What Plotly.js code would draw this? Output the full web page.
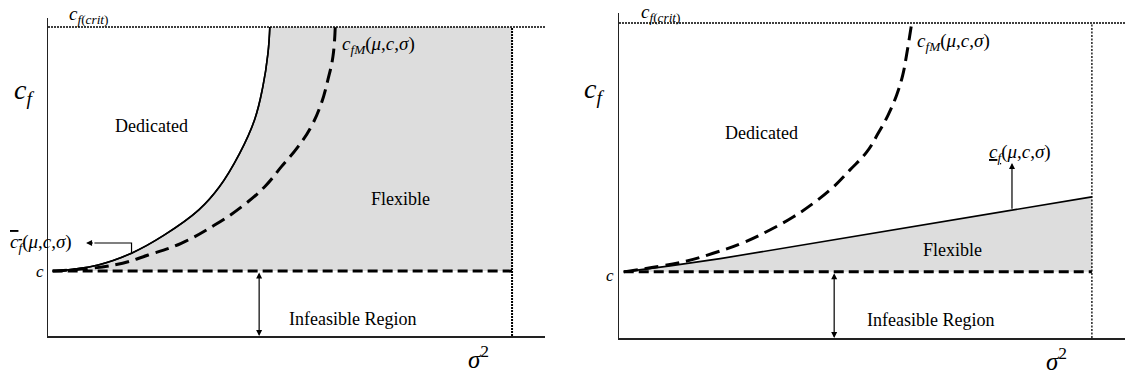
<!DOCTYPE html>
<html>
<head>
<meta charset="utf-8">
<script src="https://cdn.plot.ly/plotly-3.0.1.min.js"></script>
<style>html,body{margin:0;padding:0;background:#fff;}#chart{width:1125px;height:377px;}</style>
</head>
<body>
<div id="chart"></div>
<script>
// ---- data (x = sigma^2 units, y = c_f units; c = 2.1, c_f(crit) = 10, right bound = 10) ----
const cLevel = 2.1;
const cfCrit = 10;
const sigmaMax = 10;

// Left panel
const leftUpperX = [0.1, 1.08, 1.80, 2.51, 3.25, 3.69, 4.13, 4.45, 4.63, 4.74, 4.78];
const leftUpperY = [2.1, 2.30, 2.68, 3.27, 4.08, 4.82, 5.91, 6.99, 8.07, 9.15, 10.0];
const leftMX = [0.1, 1.44, 2.16, 2.87, 3.59, 4.17, 4.67, 5.03, 5.39, 5.67, 5.89, 6.03, 6.14, 6.19];
const leftMY = [2.1, 2.30, 2.62, 3.00, 3.59, 4.18, 4.83, 5.48, 6.13, 6.77, 7.53, 8.28, 9.04, 10.0];

// Right panel
const rightMX = [0.1, 1.36, 1.99, 2.63, 3.19, 3.69, 4.11, 4.50, 4.88, 5.24, 5.48, 5.69, 5.87, 6.00, 6.08, 6.19];
const rightMY = [2.1, 2.42, 2.69, 3.03, 3.43, 3.85, 4.28, 4.75, 5.33, 5.91, 6.50, 7.08, 7.71, 8.35, 8.98, 10.0];
const rightLowerX = [0.1, 1.08, 2.14, 4.25, 6.36, 8.31, 10.0];
const rightLowerY = [2.1, 2.29, 2.52, 3.05, 3.56, 4.06, 4.48];

// Labels
const regionLabels = ["Dedicated", "Flexible", "Infeasible Region"];

const FONT = "Liberation Serif, DejaVu Serif, Times New Roman, serif";
const BLACK = "#000";
const SHADE = "#dddddd";

function line(xs, ys, xa, ya, width, dash, shape) {
  return {x: xs, y: ys, xaxis: xa, yaxis: ya, type: "scatter", mode: "lines",
    line: {color: BLACK, width: width, dash: dash || "solid", shape: shape || "linear", smoothing: 1.2},
    cliponaxis: false, hoverinfo: "skip", showlegend: false};
}

const traces = [
  // left: shaded Flexible region lies between the solid curve and the right bound
  line(leftUpperX, leftUpperY, "x", "y", 1.6, "solid", "spline"),
  {x: [sigmaMax, sigmaMax], y: [cLevel, cfCrit], xaxis: "x", yaxis: "y", type: "scatter", mode: "lines",
   fill: "tonextx", fillcolor: SHADE, line: {width: 0, color: SHADE}, hoverinfo: "skip", showlegend: false},
  line([0, 10.71], [cfCrit, cfCrit], "x", "y", 1.5, "2px,1px"),
  line([sigmaMax, sigmaMax], [0, cfCrit], "x", "y", 2, "2px,1px"),
  line([0.1, sigmaMax], [cLevel, cLevel], "x", "y", 3, "10px,5px"),
  line(leftUpperX, leftUpperY, "x", "y", 1.6, "solid", "spline"),
  line(leftMX, leftMY, "x", "y", 3, "14px,7px", "spline"),
  line([1.80, 1.80, 1.0], [2.68, 3.01, 3.01], "x", "y", 1.2),
  // right
  {x: rightLowerX.concat([sigmaMax, rightLowerX[0]]), y: rightLowerY.concat([cLevel, cLevel]),
   xaxis: "x2", yaxis: "y2", type: "scatter", mode: "lines", fill: "toself",
   fillcolor: SHADE, line: {width: 0, color: SHADE}, hoverinfo: "skip", showlegend: false},
  line([0, 10.7], [cfCrit, cfCrit], "x2", "y2", 1.5, "2px,1px"),
  line([sigmaMax, sigmaMax], [0, cfCrit], "x2", "y2", 1.3, "2px,1.5px"),
  line([0.1, sigmaMax], [cLevel, cLevel], "x2", "y2", 3, "10px,5px"),
  line(rightLowerX, rightLowerY, "x2", "y2", 1.6, "solid"),
  line(rightMX, rightMY, "x2", "y2", 3, "14px,7px", "spline")
];

function txt(text, x, y, xa, ya, size, xanchor, yanchor) {
  return {text: text, x: x, y: y, xref: xa, yref: ya, showarrow: false,
    xanchor: xanchor || "center", yanchor: yanchor || "middle", font: {family: FONT, size: size, color: BLACK}};
}
function arrow(x, y, ax, ay, xa, ya, side) {
  return {text: "", x: x, y: y, ax: ax, ay: ay, xref: xa, yref: ya, axref: xa, ayref: ya,
    showarrow: true, arrowhead: 2, arrowsize: 1, arrowwidth: 1.2, arrowcolor: BLACK,
    arrowside: side || "end", startarrowhead: 2, startarrowsize: 1, standoff: 0, startstandoff: 0};
}

const cfMText = "<i>c</i><sub><i>fM</i></sub>(<i>μ</i>,<i>c</i>,<i>σ</i>)";
const cfText = "<i>c</i><sub><i>f</i></sub>";
const critText = "<i>c</i><sub><i>f</i>(<i>crit</i>)</sub>";
const sigmaText = "<i>σ</i><sup>2</sup>";
const annotations = [
  // left
  txt(critText, 67 / 1125, 1 - 15 / 377, "paper", "paper", 19, "left"),
  txt(cfText, 12 / 1125, 1 - 92 / 377, "paper", "paper", 28, "left"),
  txt(regionLabels[0], 2.22, 6.8, "x", "y", 18),
  txt(regionLabels[1], 7.59, 4.43, "x", "y", 18),
  txt(regionLabels[2], 6.57, 0.55, "x", "y", 18),
  txt(cfMText, 6.29, 9.42, "x", "y", 19, "left"),
  txt("<span style='text-decoration:overline'><i>c</i></span><sub><span style='text-decoration:overline'><i>f</i></span></sub>(<i>μ</i>,<i>c</i>,<i>σ</i>)", 8 / 1125, 1 - 243 / 377, "paper", "paper", 19, "left"),
  txt("<i>c</i>", 40 / 1125, 1 - 271 / 377, "paper", "paper", 17),
  txt(sigmaText, 466 / 1125, 0.004, "paper", "paper", 25, "left", "bottom"),
  arrow(0.82, 3.01, 1.0, 3.01, "x", "y"),
  arrow(4.55, 0, 4.55, cLevel, "x", "y", "end+start"),
  // right
  txt(critText, 639 / 1125, 1 - 13 / 377, "paper", "paper", 19, "left"),
  txt(cfText, 582 / 1125, 1 - 90 / 377, "paper", "paper", 28, "left"),
  txt(regionLabels[0], 3.02, 6.51, "x2", "y2", 18),
  txt(regionLabels[1], 7.06, 2.79, "x2", "y2", 18),
  txt(regionLabels[2], 6.58, 0.57, "x2", "y2", 18),
  txt(cfMText, 6.26, 9.4, "x2", "y2", 19, "left"),
  txt("<u>" + cfText + "</u>(<i>μ</i>,<i>c</i>,<i>σ</i>)", 7.78, 5.87, "x2", "y2", 19, "left"),
  txt("<i>c</i>", 610 / 1125, 1 - 275 / 377, "paper", "paper", 17),
  txt(sigmaText, 1044 / 1125, 0.0, "paper", "paper", 25, "left", "bottom"),
  arrow(8.31, 5.56, 8.31, 4.06, "x2", "y2"),
  arrow(4.55, 0, 4.55, cLevel, "x2", "y2", "end+start")
];

function axis(domain, range) {
  return {domain: domain, range: range, showgrid: false, zeroline: false, showticklabels: false,
    ticks: "", showline: true, linecolor: "#222", linewidth: 1.5, fixedrange: true};
}

const layout = {
  width: 1125, height: 377,
  margin: {l: 0, r: 0, t: 0, b: 0},
  paper_bgcolor: "#fff", plot_bgcolor: "rgba(0,0,0,0)",
  showlegend: false, hovermode: false,
  font: {family: FONT, color: BLACK},
  xaxis: axis([48 / 1125, 545 / 1125], [0, 10.71]),
  yaxis: axis([41 / 377, 359 / 377], [0, 10.29]),
  xaxis2: Object.assign(axis([619 / 1125, 1], [0, 10.7]), {anchor: "y2"}),
  yaxis2: Object.assign(axis([39 / 377, 364 / 377], [0, 10.32]), {anchor: "x2"}),
  annotations: annotations
};
layout.xaxis.anchor = "y";
layout.yaxis.anchor = "x";

Plotly.newPlot("chart", traces, layout, {staticPlot: true, displayModeBar: false});
</script>
</body>
</html>
